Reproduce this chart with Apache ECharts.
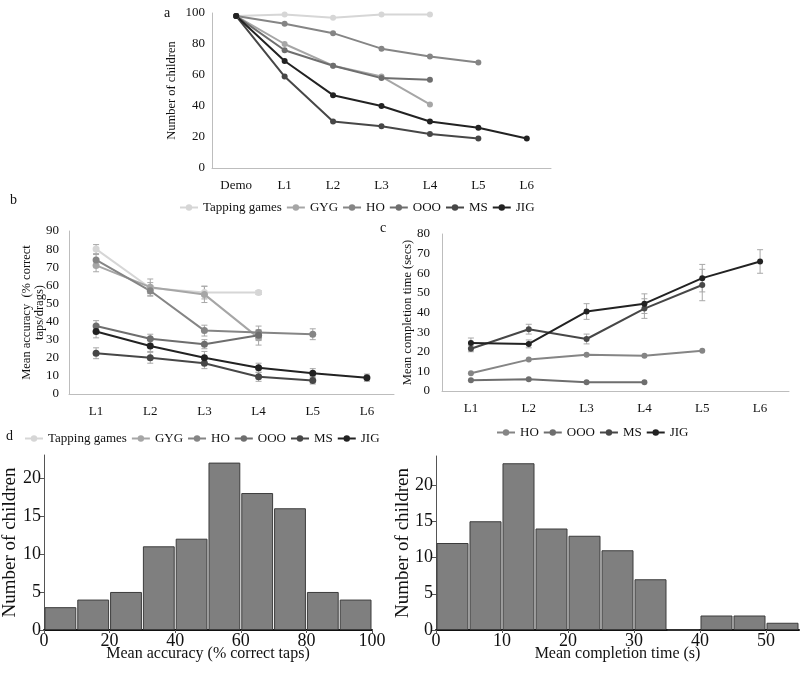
<!DOCTYPE html>
<html>
<head>
<meta charset="utf-8">
<script src="https://cdn.jsdelivr.net/npm/echarts@6/dist/echarts.min.js"></script>
<style>
html,body{margin:0;padding:0;background:#fff;}
#chart{width:800px;height:679px;}
</style>
</head>
<body>
<div id="chart"></div>
<script>
// categories
var levelsA = ['Demo','L1','L2','L3','L4','L5','L6'];
var levelsBC = ['L1','L2','L3','L4','L5','L6'];
var gameNames = ['Tapping games','GYG','HO','OOO','MS','JIG'];
var timeNames = ['HO','OOO','MS','JIG'];

// a - number of children per level
var countTapping = [98,99,97,99,99];
var countGYG = [98,80,66,59,41];
var countHO = [98,93,87,77,72,68];
var countOOO = [98,76,66,58,57];
var countMS = [98,59,30,27,22,19];
var countJIG = [98,69,47,40,30,26,19];

// b - mean accuracy and error
var accTapping = [80,58.5,56,56];
var accTappingErr = [2.5,3,3.5,1];
var accGYG = [71,59,55,31];
var accGYGErr = [3.5,4.5,4.5,4];
var accHO = [74,57,35,34,33];
var accHOErr = [3,3,3,3.5,3];
var accOOO = [37.5,30.5,27.5,32.5];
var accOOOErr = [3,2.5,2.5,3];
var accMS = [22.5,20,17,9.5,7.5];
var accMSErr = [3,3,3,2.5,2];
var accJIG = [34.5,26.5,20,14.5,11.5,9];
var accJIGErr = [3.5,3,3.5,2.5,2.5,2];

// c - mean completion time and error
var timeHO = [9,16,18.5,18,20.5];
var timeOOO = [5.5,6,4.5,4.5];
var timeMS = [21.5,31.5,26.5,42,54];
var timeMSErr = [1.5,2.5,2.5,5,8];
var timeJIG = [24.5,24,40.5,44.5,57.5,66];
var timeJIGErr = [2.5,2,4,5,7,6];

// d, e - histograms
var accBins = ['0-10','10-20','20-30','30-40','40-50','50-60','60-70','70-80','80-90','90-100'];
var accCounts = [3,4,5,11,12,22,18,16,5,4];
var timeBins = ['0-5','5-10','10-15','15-20','20-25','25-30','30-35','35-40','40-45','45-50','50-55'];
var timeCounts = [12,15,23,14,13,11,7,0,2,2,1];

var colors = {
	'Tapping games':'#d6d6d6',
	'GYG':'#a6a6a6',
	'HO':'#858585',
	'OOO':'#6e6e6e',
	'MS':'#474747',
	'JIG':'#222222'
};
var serif = '"Liberation Serif", "DejaVu Serif", serif';
var ink = '#111';

function line(name, data, xi, yi, size){
	return {
		name:name, type:'line', xAxisIndex:xi, yAxisIndex:yi,
		data:data, symbol:'circle', symbolSize:size,
		lineStyle:{color:colors[name], width:2},
		itemStyle:{color:colors[name]},
		z:3
	};
}

// [index, low, high] for each error bar
function errData(vals, errs){
	var out = [];
	for(var i=0;i<vals.length;i++){
		out.push([i, vals[i]-errs[i], vals[i]+errs[i]]);
	}
	return out;
}

function renderErr(params, api){
	var lo = api.coord([api.value(0), api.value(1)]);
	var hi = api.coord([api.value(0), api.value(2)]);
	var w = 3, st = {stroke:'#a8a8a8', lineWidth:1};
	return {type:'group', children:[
		{type:'line', shape:{x1:lo[0],y1:lo[1],x2:hi[0],y2:hi[1]}, style:st},
		{type:'line', shape:{x1:lo[0]-w,y1:lo[1],x2:lo[0]+w,y2:lo[1]}, style:st},
		{type:'line', shape:{x1:hi[0]-w,y1:hi[1],x2:hi[0]+w,y2:hi[1]}, style:st}
	]};
}

function errSeries(list, xi, yi){
	var data = [];
	for(var i=0;i<list.length;i++) data = data.concat(errData(list[i][0], list[i][1]));
	return {type:'custom', xAxisIndex:xi, yAxisIndex:yi, renderItem:renderErr,
		encode:{x:0, y:[1,2]}, data:data, z:1, silent:true};
}

function catAxis(cats, gi){
	return {
		type:'category', gridIndex:gi, data:cats, boundaryGap:true,
		axisLine:{lineStyle:{color:'#bdbdbd'}}, axisTick:{show:false},
		axisLabel:{color:ink, fontFamily:serif, fontSize:13, margin:11}
	};
}
function valAxis(gi, max, step, name, gap, margin){
	return {
		type:'value', gridIndex:gi, min:0, max:max, interval:step,
		splitLine:{show:false}, axisTick:{show:false},
		axisLine:{show:true, lineStyle:{color:'#bdbdbd'}},
		axisLabel:{color:ink, fontFamily:serif, fontSize:13, margin:margin},
		name:name, nameLocation:'middle', nameGap:gap, nameRotate:90, nameMoveOverlap:false,
		nameTextStyle:{color:ink, fontFamily:serif, fontSize:12.5, lineHeight:13}
	};
}
function histX(gi, max, step, name){
	return {
		type:'value', gridIndex:gi, min:0, max:max, interval:step,
		splitLine:{show:false},
		axisLine:{lineStyle:{color:'#111', width:2}},
		axisTick:{show:true, length:3, lineStyle:{color:'#555'}},
		axisLabel:{color:ink, fontFamily:serif, fontSize:18, margin:2, showMaxLabel:max%step==0},
		name:name, nameLocation:'middle', nameGap:16, nameMoveOverlap:false,
		nameTextStyle:{color:ink, fontFamily:serif, fontSize:16}
	};
}
function histY(gi, max, gap){
	return {
		type:'value', gridIndex:gi, min:0, max:max, interval:5,
		splitLine:{show:false},
		axisLine:{show:true, lineStyle:{color:'#555'}},
		axisTick:{show:true, length:4, lineStyle:{color:'#555'}},
		axisLabel:{color:ink, fontFamily:serif, fontSize:18, margin:3, showMaxLabel:false},
		name:'Number of children', nameLocation:'middle', nameGap:gap, nameRotate:90, nameMoveOverlap:false,
		nameTextStyle:{color:ink, fontFamily:serif, fontSize:19}
	};
}
function hidCat(cats, gi){
	return {type:'category', gridIndex:gi, data:cats, show:false, boundaryGap:true};
}
function bars(data, xi, yi){
	return {type:'bar', xAxisIndex:xi, yAxisIndex:yi, data:data, barCategoryGap:'3%',
		itemStyle:{color:'#7f7f7f', borderColor:'#3c3c3c', borderWidth:1}, z:2};
}
function legend(names, left, top){
	return {data:names, left:left, top:top, padding:[2,0], itemWidth:18, itemHeight:8, itemGap:4,
		textStyle:{color:ink, fontFamily:serif, fontSize:13}, selectedMode:false};
}
function letter(t, x, y){
	return {type:'text', left:x, top:y, style:{text:t, fill:ink, font:'14px ' + serif}};
}

var chart = echarts.init(document.getElementById('chart'));
var option = {
	animation:false,
	backgroundColor:'#fff',
	grid:[
		{left:212, top:13, width:339, height:155},
		{left:69, top:231, width:325, height:163},
		{left:442, top:234, width:347, height:157},
		{left:44, top:455, width:328, height:175},
		{left:436, top:456, width:363, height:174}
	],
	xAxis:[
		catAxis(levelsA,0),
		catAxis(levelsBC,1),
		catAxis(levelsBC,2),
		histX(3,100,20,'Mean accuracy (% correct taps)'),
		hidCat(accBins,3),
		histX(4,55,10,'Mean completion time (s)'),
		hidCat(timeBins,4)
	],
	yAxis:[
		valAxis(0,100,20,'Number of children',34,7),
		valAxis(1,90,10,'Mean accuracy  (% correct\ntaps/drags)',23,10),
		valAxis(2,80,10,'Mean completion time (secs)',28,12),
		histY(3,23,24),
		histY(4,24,23)
	],
	legend:[
		legend(gameNames,179,199),
		legend(gameNames,24,430),
		legend(timeNames,496,424)
	],
	graphic:[
		letter('a',164,6),
		letter('b',10,193),
		letter('c',380,221),
		letter('d',6,429)
	],
	series:[
		line('Tapping games',countTapping,0,0,6),
		line('GYG',countGYG,0,0,6),
		line('HO',countHO,0,0,6),
		line('OOO',countOOO,0,0,6),
		line('MS',countMS,0,0,6),
		line('JIG',countJIG,0,0,6),

		errSeries([[accTapping,accTappingErr],[accGYG,accGYGErr],[accHO,accHOErr],
			[accOOO,accOOOErr],[accMS,accMSErr],[accJIG,accJIGErr]],1,1),
		line('Tapping games',accTapping,1,1,7),
		line('GYG',accGYG,1,1,7),
		line('HO',accHO,1,1,7),
		line('OOO',accOOO,1,1,7),
		line('MS',accMS,1,1,7),
		line('JIG',accJIG,1,1,7),

		errSeries([[timeMS,timeMSErr],[timeJIG,timeJIGErr]],2,2),
		line('HO',timeHO,2,2,6),
		line('OOO',timeOOO,2,2,6),
		line('MS',timeMS,2,2,6),
		line('JIG',timeJIG,2,2,6),

		bars(accCounts,4,3),
		bars(timeCounts,6,4)
	]
};
chart.setOption(option);
</script>
</body>
</html>
